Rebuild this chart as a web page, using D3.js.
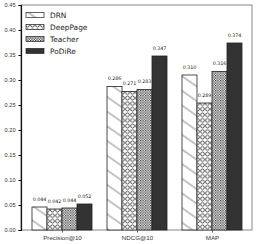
<!DOCTYPE html>
<html>
<head>
<meta charset="utf-8">
<script src="https://cdn.jsdelivr.net/npm/d3@7"></script>
<style>
  body { margin: 0; background: #fff; }
  svg { display: block; font-family: "DejaVu Sans", sans-serif; }
</style>
</head>
<body>
<div id="chart"></div>
<script>
// Data
const metrics = ["Precision@10", "NDCG@10", "MAP"];
const series = ["DRN", "DeepPage", "Teacher", "PoDiRe"];
const drn = [0.046, 0.287, 0.310];
const deepPage = [0.042, 0.277, 0.254];
const teacher = [0.044, 0.281, 0.317];
const podire = [0.052, 0.348, 0.374];
// value labels printed above bars
const drnLabels = ["0.044", "0.286", "0.310"];
const deepPageLabels = ["0.042", "0.271", "0.289"];
const teacherLabels = ["0.044", "0.283", "0.316"];
const podireLabels = ["0.052", "0.347", "0.374"];
const yTicks = [0, 0.05, 0.10, 0.15, 0.20, 0.25, 0.30, 0.35, 0.40, 0.45];

const values = [drn, deepPage, teacher, podire];
const labels = [drnLabels, deepPageLabels, teacherLabels, podireLabels];
const fills = ["url(#hatch)", "url(#circles)", "url(#dots)", "#333333"];

const W = 257, H = 244;
const mLeft = 21, mRight = 252, mTop = 5, mBottom = 230;

const svg = d3.select("#chart").append("svg")
  .attr("width", W).attr("height", H);

// Patterns
const defs = svg.append("defs");
// sparse "\\" hatch for DRN
const hatch = defs.append("pattern")
  .attr("id", "hatch")
  .attr("patternUnits", "userSpaceOnUse")
  .attr("width", 12).attr("height", 12)
  .attr("patternTransform", "rotate(35)");
hatch.append("rect").attr("width", 12).attr("height", 12).attr("fill", "#fff");
hatch.append("line")
  .attr("x1", 0).attr("y1", 6).attr("x2", 12).attr("y2", 6)
  .attr("stroke", "#555").attr("stroke-width", 0.7);

const circ = defs.append("pattern")
  .attr("id", "circles")
  .attr("patternUnits", "userSpaceOnUse")
  .attr("width", 5).attr("height", 5.6);
circ.append("rect").attr("width", 5).attr("height", 5.6).attr("fill", "#fff");
circ.append("circle")
  .attr("cx", 2.5).attr("cy", 2.8).attr("r", 1.9)
  .attr("fill", "none").attr("stroke", "#222").attr("stroke-width", 0.75);

const dots = defs.append("pattern")
  .attr("id", "dots")
  .attr("patternUnits", "userSpaceOnUse")
  .attr("width", 2.5).attr("height", 2.5);
dots.append("rect").attr("width", 2.5).attr("height", 2.5).attr("fill", "#fff");
dots.append("rect").attr("x", 0).attr("y", 0).attr("width", 1.2).attr("height", 1.2).attr("fill", "#222");
dots.append("rect").attr("x", 1.25).attr("y", 1.25).attr("width", 1.2).attr("height", 1.2).attr("fill", "#444");

// Scales
const x0 = d3.scaleBand().domain(metrics).range([24.5, 249.5]);
const x1 = d3.scaleBand().domain(series).range([7.5, 67.5]);
const y = d3.scaleLinear().domain([0, 0.45]).range([mBottom, mTop]);

// Frame
svg.append("rect")
  .attr("x", mLeft).attr("y", mTop)
  .attr("width", mRight - mLeft).attr("height", mBottom - mTop)
  .attr("fill", "none").attr("stroke", "#888").attr("stroke-width", 1);

// Bars
series.forEach((s, j) => {
  const g = svg.append("g");
  g.selectAll("rect")
    .data(metrics)
    .join("rect")
    .attr("x", (m) => x0(m) + x1(s))
    .attr("y", (m, i) => y(values[j][i]))
    .attr("width", x1.bandwidth())
    .attr("height", (m, i) => mBottom - y(values[j][i]))
    .attr("fill", fills[j])
    .attr("stroke", "#222")
    .attr("stroke-width", 0.8);

  g.selectAll("text")
    .data(metrics)
    .join("text")
    .attr("x", (m) => x0(m) + x1(s) + x1.bandwidth() / 2)
    .attr("y", (m, i) => y(values[j][i]) - 6.5)
    .attr("text-anchor", "middle")
    .style("font-size", "4.8px")
    .style("fill", "#222")
    .text((m, i) => labels[j][i]);
});

// Axes
const yAxis = svg.append("g")
  .attr("transform", `translate(${mLeft},0)`)
  .call(d3.axisLeft(y).tickValues(yTicks).tickFormat(d3.format(".2f")).tickSize(2.5).tickPadding(3));
yAxis.select(".domain").attr("stroke", "#111").attr("stroke-width", 1.2);
yAxis.selectAll("text").style("font-size", "5.6px").style("fill", "#333");

const xAxis = svg.append("g")
  .attr("transform", `translate(0,${mBottom})`)
  .call(d3.axisBottom(d3.scalePoint().domain(metrics).range([x0(metrics[0]) + x0.bandwidth() / 2, x0(metrics[2]) + x0.bandwidth() / 2]))
    .tickSize(2.5).tickPadding(3));
xAxis.select(".domain").remove();
xAxis.selectAll("line").attr("stroke", "#555");
xAxis.selectAll("text").style("font-size", "6.2px").style("fill", "#333");

// Legend
const legend = svg.append("g");
series.forEach((s, j) => {
  const ly = 15 + j * 12;
  legend.append("rect")
    .attr("x", 26).attr("y", ly - 2.5)
    .attr("width", 18).attr("height", 5)
    .attr("fill", fills[j])
    .attr("stroke", "#222").attr("stroke-width", 0.7);
  legend.append("text")
    .attr("x", 50).attr("y", ly)
    .attr("dy", "0.35em")
    .style("font-size", "7.4px")
    .style("fill", "#222")
    .text(s);
});
</script>
</body>
</html>
